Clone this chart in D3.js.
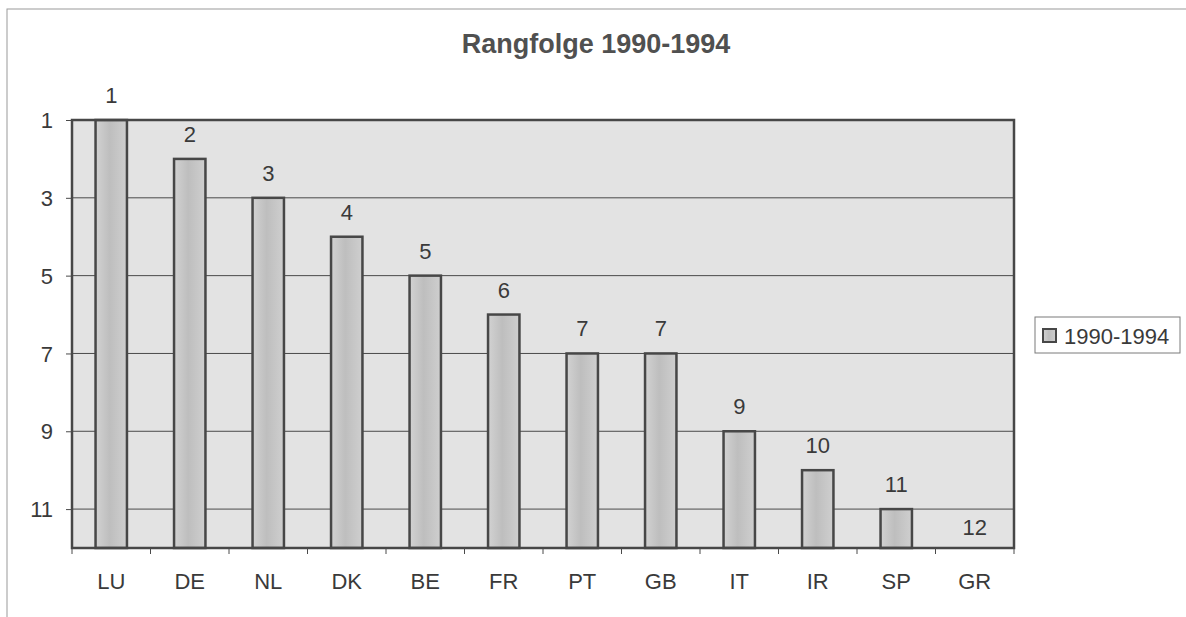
<!DOCTYPE html>
<html>
<head>
    <meta charset="utf-8">
    <title>Rangfolge 1990-1994</title>
    <script src="https://d3js.org/d3.v7.min.js"></script>
    <style>
        body { margin: 0; background: #fff; }
        text { font-family: Arial, "Liberation Sans", sans-serif; fill: #3a3a3a; }
    </style>
</head>
<body>
    <div id="chart"></div>

    <script>
        // Data
        var countries = ["LU", "DE", "NL", "DK", "BE", "FR", "PT", "GB", "IT", "IR", "SP", "GR"];
        var ranks = [1, 2, 3, 4, 5, 6, 7, 7, 9, 10, 11, 12];
        var yTicks = [1, 3, 5, 7, 9, 11];
        var seriesName = "1990-1994";
        var title = "Rangfolge 1990-1994";

        var W = 1186, H = 617;
        var plot = { left: 72, right: 1014, top: 120, bottom: 548 };

        var svg = d3.select("#chart").append("svg")
            .attr("width", W)
            .attr("height", H);

        var defs = svg.append("defs");
        var grad = defs.append("linearGradient").attr("id", "barGrad")
            .attr("x1", "0%").attr("x2", "100%").attr("y1", "0%").attr("y2", "0%");
        grad.append("stop").attr("offset", "0%").attr("stop-color", "#d2d2d2");
        grad.append("stop").attr("offset", "45%").attr("stop-color", "#bebebe");
        grad.append("stop").attr("offset", "100%").attr("stop-color", "#cfcfcf");

        // outer frame
        svg.append("rect")
            .attr("x", 7).attr("y", 9)
            .attr("width", W + 10).attr("height", H + 10)
            .attr("fill", "none")
            .attr("stroke", "#9a9a9a")
            .attr("stroke-width", 1);

        // title
        svg.append("text")
            .attr("x", 596).attr("y", 53)
            .attr("text-anchor", "middle")
            .style("font-size", "27px")
            .style("font-weight", "bold")
            .style("fill", "#505050")
            .text(title);

        // scales
        var x = d3.scaleBand()
            .domain(countries)
            .range([plot.left, plot.right])
            .paddingInner(0.6)
            .paddingOuter(0.3);
        var xEdges = d3.scaleBand()
            .domain(countries)
            .range([plot.left, plot.right]);
        var y = d3.scaleLinear()
            .domain([1, 12])
            .range([plot.top, plot.bottom]);

        // plot background
        svg.append("rect")
            .attr("x", plot.left).attr("y", plot.top)
            .attr("width", plot.right - plot.left)
            .attr("height", plot.bottom - plot.top)
            .attr("fill", "#e3e3e3");

        // gridlines
        svg.append("g")
            .selectAll("line")
            .data(yTicks.slice(1))
            .enter().append("line")
            .attr("x1", plot.left).attr("x2", plot.right)
            .attr("y1", function (d) { return y(d); })
            .attr("y2", function (d) { return y(d); })
            .attr("stroke", "#4a4a4a")
            .attr("stroke-width", 1);

        // bars
        svg.append("g")
            .selectAll("rect")
            .data(countries)
            .enter().append("rect")
            .attr("x", function (d) { return x(d); })
            .attr("width", x.bandwidth())
            .attr("y", function (d, i) { return y(ranks[i]); })
            .attr("height", function (d, i) { return y(12) - y(ranks[i]); })
            .attr("fill", "url(#barGrad)")
            .attr("stroke", "#474747")
            .attr("stroke-width", 2.5);

        // value labels
        svg.append("g")
            .selectAll("text")
            .data(countries)
            .enter().append("text")
            .attr("x", function (d) { return x(d) + x.bandwidth() / 2; })
            .attr("y", function (d, i) { return ranks[i] === 12 ? y(ranks[i]) - 13 : y(ranks[i]) - 17; })
            .attr("text-anchor", "middle")
            .style("font-size", "22px")
            .text(function (d, i) { return ranks[i]; });

        // plot border
        svg.append("rect")
            .attr("x", plot.left).attr("y", plot.top)
            .attr("width", plot.right - plot.left)
            .attr("height", plot.bottom - plot.top)
            .attr("fill", "none")
            .attr("stroke", "#474747")
            .attr("stroke-width", 2.5);

        // y axis
        var yAxis = svg.append("g")
            .attr("transform", "translate(" + plot.left + ",0)")
            .call(d3.axisLeft(y).tickValues(yTicks).tickSize(6).tickPadding(13));
        yAxis.select(".domain").remove();
        yAxis.selectAll("line").attr("stroke", "#4a4a4a");
        yAxis.selectAll("text")
            .style("font-size", "22px")
            .attr("dy", "0.35em");

        // x axis with tick marks at category edges
        var xAxis = svg.append("g")
            .attr("transform", "translate(0," + plot.bottom + ")")
            .call(d3.axisBottom(x).tickSize(0).tickPadding(25));
        xAxis.select(".domain").remove();
        xAxis.selectAll("text").style("font-size", "22px");
        svg.append("g")
            .selectAll("line")
            .data(countries.concat(["end"]))
            .enter().append("line")
            .attr("x1", function (d, i) { return i < countries.length ? xEdges(d) : plot.right; })
            .attr("x2", function (d, i) { return i < countries.length ? xEdges(d) : plot.right; })
            .attr("y1", plot.bottom)
            .attr("y2", plot.bottom + 6)
            .attr("stroke", "#4a4a4a");

        // legend
        var legend = svg.append("g");
        legend.append("rect")
            .attr("x", 1035).attr("y", 317)
            .attr("width", 145).attr("height", 36)
            .attr("fill", "#fff")
            .attr("stroke", "#7a7a7a");
        legend.append("rect")
            .attr("x", 1043).attr("y", 329)
            .attr("width", 13).attr("height", 13)
            .attr("fill", "url(#barGrad)")
            .attr("stroke", "#474747")
            .attr("stroke-width", 2);
        legend.append("text")
            .attr("x", 1064).attr("y", 344)
            .style("font-size", "22px")
            .text(seriesName);
    </script>
</body>
</html>
